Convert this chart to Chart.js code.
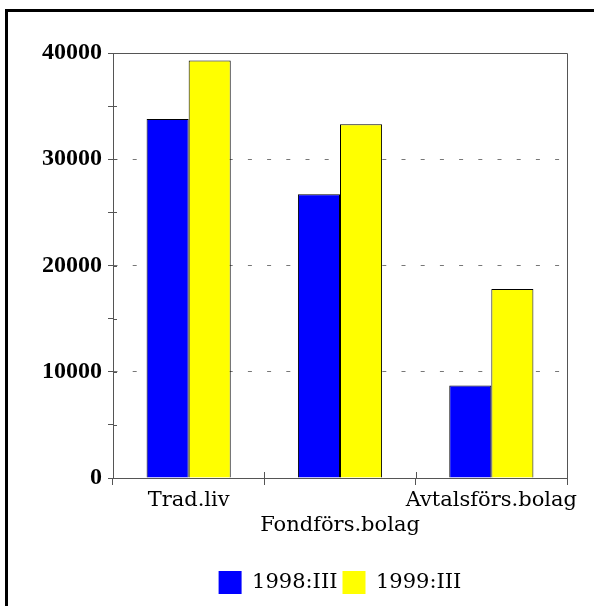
<!DOCTYPE html>
<html>
<head>
<meta charset="utf-8">
<script src="https://cdn.jsdelivr.net/npm/chart.js@4"></script>
<style>
  html, body { margin: 0; padding: 0; background: #fff; }
  #wrap { position: relative; width: 599px; height: 606px; overflow: hidden; }
  #frame {
    position: absolute; left: 5px; top: 9px; width: 586px; height: 620px;
    border-left: 3px solid #000; border-top: 3px solid #000;
  }
  canvas { position: absolute; left: 0; top: 0; }
</style>
</head>
<body>
<div id="wrap">
  <div id="frame"></div>
  <canvas id="chart" width="599" height="606"></canvas>
</div>
<script>
// bar chart: two quarters per company type
const categories = ["Trad.liv", "Fondförs.bolag", "Avtalsförs.bolag"];
const seriesNames = ["1998:III", "1999:III"];
const values1998 = [33800, 26700, 8700];
const values1999 = [39300, 33300, 17800];
const yTicks = [0, 10000, 20000, 30000, 40000];

const SERIF = "'DejaVu Serif', 'Liberation Serif', serif";
const AXIS_GREY = "#555";

// thin grey box round the plot area (top + right sides),
// plus the short inner halves of the axis tick marks
const plotFrame = {
  id: "plotFrame",
  afterDatasetsDraw(chart) {
    const { ctx, chartArea: a, scales } = chart;
    ctx.save();
    ctx.strokeStyle = AXIS_GREY;
    ctx.lineWidth = 1;
    ctx.beginPath();
    ctx.moveTo(a.left, a.top + 0.5);
    ctx.lineTo(a.right + 0.5, a.top + 0.5);
    ctx.lineTo(a.right + 0.5, a.bottom);

    scales.y.ticks.forEach((t) => {
      const py = Math.round(scales.y.getPixelForValue(t.value)) + 0.5;
      ctx.moveTo(a.left, py);
      ctx.lineTo(a.left + 4, py);
    });

    const n = scales.x.ticks.length;
    for (let i = 0; i < n; i++) {
      const p = scales.x.getPixelForTick(i);
      const next = i < n - 1 ? scales.x.getPixelForTick(i + 1) : p + (p - scales.x.getPixelForTick(i - 1));
      const px = Math.round((p + next) / 2) + 0.5;
      ctx.moveTo(px, a.bottom);
      ctx.lineTo(px, a.bottom - 6);
    }
    ctx.stroke();
    ctx.restore();
  },
};

new Chart(document.getElementById("chart"), {
  type: "bar",
  data: {
    labels: categories,
    datasets: [
      {
        label: seriesNames[0],
        data: values1998,
        backgroundColor: "#0000ff",
        borderColor: "#000",
        borderWidth: 1,
      },
      {
        label: seriesNames[1],
        data: values1999,
        backgroundColor: "#ffff00",
        borderColor: "#000",
        borderWidth: 1,
      },
    ],
  },
  options: {
    responsive: false,
    animation: false,
    devicePixelRatio: 1,
    layout: { padding: { top: 53, right: 32, left: 0, bottom: 2 } },
    datasets: { bar: { categoryPercentage: 0.556, barPercentage: 1.0 } },
    plugins: {
      tooltip: { enabled: false },
      legend: {
        position: "bottom",
        fullSize: false,
        labels: {
          boxWidth: 23,
          boxHeight: 23,
          padding: 5,
          color: "#000",
          font: { family: SERIF, size: 21 },
          generateLabels(chart) {
            const items = Chart.defaults.plugins.legend.labels.generateLabels(chart);
            items.forEach((it) => { it.lineWidth = 0; });
            return items;
          },
        },
      },
    },
    scales: {
      x: {
        afterFit: (scale) => { scale.height = 88; },
        border: { display: true, color: AXIS_GREY, width: 1 },
        grid: {
          offset: true,
          drawOnChartArea: false,
          drawTicks: true,
          tickLength: 7,
          color: AXIS_GREY,
        },
        ticks: {
          color: "#000",
          padding: 3,
          maxRotation: 0,
          autoSkip: false,
          font: { family: SERIF, size: 21, lineHeight: 1.2 },
          // stagger the middle label onto a second line
          callback: (v, i) => (i % 2 === 1 ? ["", categories[i]] : categories[i]),
        },
      },
      y: {
        min: 0,
        max: 40000,
        afterFit: (scale) => { scale.width = 113; },
        afterBuildTicks: (scale) => {
          scale.ticks = [];
          for (let v = 0; v <= 40000; v += 5000) scale.ticks.push({ value: v });
        },
        // in v4 border.dash sets the dash of the grid lines
        border: { display: true, color: AXIS_GREY, width: 1, dash: [4, 15.2], dashOffset: 0.5 },
        grid: {
          drawTicks: true,
          tickLength: 5,
          tickColor: AXIS_GREY,
          tickBorderDash: [],
          color: (ctx) => {
            const v = ctx.tick && ctx.tick.value;
            return v > 0 && v < 40000 && v % 10000 === 0 ? "#777" : "rgba(0,0,0,0)";
          },
          lineWidth: 1,
        },
        ticks: {
          color: "#000",
          padding: 6,
          font: { family: "'Liberation Serif', serif", size: 24, weight: "bold" },
          callback: (v) => (yTicks.includes(v) ? String(v) : ""),
        },
      },
    },
  },
  plugins: [plotFrame],
});
</script>
</body>
</html>
